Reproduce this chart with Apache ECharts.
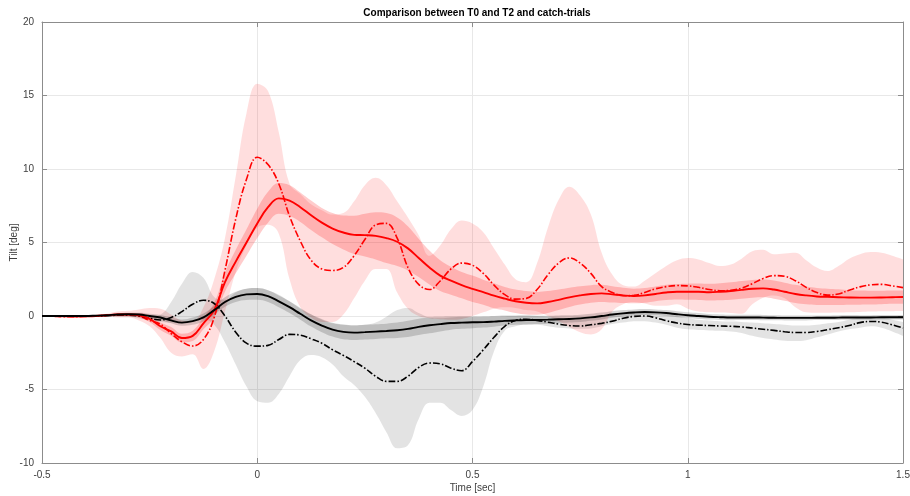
<!DOCTYPE html>
<html>
<head>
<meta charset="utf-8">
<script src="https://cdn.jsdelivr.net/npm/echarts@6/dist/echarts.min.js"></script>
<style>
  html, body { margin: 0; padding: 0; background: #fff; }
  #chart { width: 910px; height: 496px; }
</style>
</head>
<body>
<div id="chart"></div>
<script>
// Sampling grid: -0.5 s .. 1.5 s every 25 ms
const time = [];
for (let i = 0; i <= 80; i++) time.push(+(-0.5 + i * 0.025).toFixed(3));

const xTickLabels = ['-0.5', '0', '0.5', '1', '1.5'];
const yTickLabels = [-10, -5, 0, 5, 10, 15, 20];

// T0 mean tilt (red solid) and its spread (half-width of dark band)
const redMean = [0, 0, -0.02, -0.03, -0.02, 0, 0.05, 0.1, 0.1, 0.05,
  -0.2, -0.7, -1.05, -1.5, -1.35, -0.5, 0.4, 2.3, 3.7, 5.0,
  6.3, 7.4, 8.0, 7.85, 7.4, 6.85, 6.35, 5.95, 5.68, 5.52,
  5.5, 5.45, 5.3, 5.05, 4.6, 3.95, 3.3, 2.75, 2.4, 2.1,
  1.85, 1.62, 1.38, 1.18, 1.0, 0.9, 0.86, 0.95, 1.1, 1.27,
  1.4, 1.5, 1.54, 1.47, 1.4, 1.36, 1.4, 1.5, 1.6, 1.65,
  1.65, 1.65, 1.62, 1.65, 1.7, 1.78, 1.85, 1.88, 1.8, 1.65,
  1.5, 1.4, 1.33, 1.3, 1.28, 1.26, 1.25, 1.25, 1.26, 1.28, 1.29];
const redSpread = [0.05, 0.05, 0.05, 0.05, 0.05, 0.05, 0.06, 0.08, 0.1, 0.15,
  0.2, 0.25, 0.3, 0.3, 0.35, 0.4, 0.5, 0.65, 0.8, 0.9,
  1.0, 1.05, 1.05, 1.05, 1.0, 1.0, 1.0, 1.05, 1.15, 1.3,
  1.45, 1.6, 1.7, 1.65, 1.5, 1.3, 1.15, 1.05, 0.95, 0.9,
  0.9, 0.85, 0.85, 0.8, 0.8, 0.8, 0.78, 0.75, 0.7, 0.65,
  0.62, 0.6, 0.58, 0.55, 0.52, 0.5, 0.5, 0.5, 0.52, 0.53,
  0.55, 0.56, 0.57, 0.58, 0.59, 0.6, 0.6, 0.61, 0.62, 0.62,
  0.62, 0.6, 0.58, 0.56, 0.54, 0.5, 0.48, 0.47, 0.46, 0.45, 0.45];

// T2 tilt (red dash-dot) with its band limits
const redDash = [0, -0.02, -0.05, -0.05, -0.03, 0, 0.05, 0.1, 0.1, 0.0,
  -0.3, -0.55, -1.2, -1.75, -2.04, -1.6, -0.1, 3.1, 6.6, 9.3,
  10.8, 10.3, 9.0, 6.8, 5.1, 3.8, 3.2, 3.1, 3.3, 4.1,
  5.2, 6.2, 6.3, 5.3, 3.3, 2.15, 1.8, 2.38, 3.2, 3.6,
  3.45, 2.9, 2.1, 1.45, 1.15, 1.2, 1.8, 2.8, 3.6, 3.95,
  3.6, 2.9, 2.0, 1.6, 1.38, 1.4, 1.6, 1.85, 2.0, 2.07,
  2.05, 1.95, 1.8, 1.72, 1.75, 1.9, 2.2, 2.55, 2.75, 2.7,
  2.4, 1.95, 1.6, 1.42, 1.5, 1.75, 1.98, 2.12, 2.15, 2.05, 1.93];
const redDashHigh = [0.05, 0.05, 0.05, 0.05, 0.05, 0.08, 0.15, 0.3, 0.35, 0.45,
  0.55, 0.5, 0.1, -0.3, -0.35, 0.6, 2.5, 5.3, 9.5, 13.8,
  15.8, 15.3, 12.5, 9.0, 8.3, 7.6, 7.2, 6.9, 7.0, 7.8,
  8.9, 9.4, 8.9, 7.8, 6.7, 5.5, 4.1, 4.8, 5.9, 6.5,
  6.3, 5.7, 4.6, 3.5, 2.5, 2.3, 3.6, 6.0, 7.9, 8.8,
  8.2, 6.9, 4.3, 2.8, 2.1, 2.0, 2.4, 2.9, 3.4, 3.8,
  3.95, 3.85, 3.6, 3.4, 3.5, 3.9, 4.4, 4.5, 4.2, 4.25,
  4.3, 3.8, 3.3, 3.06, 3.4, 3.9, 4.2, 4.35, 4.3, 4.1, 3.85];
const redDashLow = [-0.05, -0.05, -0.05, -0.05, -0.05, -0.05, -0.05, -0.1, -0.1, -0.3,
  -0.7, -1.5, -2.5, -2.75, -2.6, -3.6, -2.4, 0.3, 3.0, 4.8,
  6.0, 6.2, 5.6, 2.5, 0.6, -0.1, -0.4, -0.4, 0.1, 1.2,
  2.4, 3.2, 3.2, 1.6, 0.5, 0.0, -0.15, -0.22, -0.25, -0.2,
  0.0, 0.25, 0.5, 0.6, 0.55, 0.4, 0.3, 0.0, -0.35, -0.75,
  -1.1, -1.25, -0.9, 0.3, 0.8, 0.95, 0.85, 0.7, 0.7, 0.8,
  0.5, 0.3, 0.25, 0.23, 0.2, 0.15, 0.8, 1.25, 1.4, 1.2,
  0.6, 0.25, 0.22, 0.22, 0.23, 0.25, 0.27, 0.3, 0.32, 0.33, 0.34];

// Catch-trial mean tilt (black solid) and its spread
const blackMean = [0, 0, 0, 0, 0, 0.02, 0.05, 0.1, 0.12, 0.1,
  0.0, -0.1, -0.3, -0.45, -0.35, -0.1, 0.4, 0.95, 1.3, 1.47,
  1.5, 1.35, 1.0, 0.6, 0.15, -0.3, -0.65, -0.93, -1.08, -1.13,
  -1.1, -1.06, -1.02, -0.97, -0.88, -0.74, -0.63, -0.55, -0.48, -0.45,
  -0.43, -0.42, -0.38, -0.33, -0.3, -0.28, -0.27, -0.25, -0.22, -0.2,
  -0.16, -0.09, 0.0, 0.1, 0.18, 0.24, 0.27, 0.25, 0.2, 0.12,
  0.05, 0.0, -0.05, -0.08, -0.1, -0.1, -0.1, -0.11, -0.12, -0.13,
  -0.13, -0.13, -0.12, -0.12, -0.11, -0.1, -0.1, -0.1, -0.09, -0.09, -0.09];
const blackSpread = [0.03, 0.03, 0.03, 0.03, 0.03, 0.04, 0.05, 0.07, 0.1, 0.12,
  0.15, 0.17, 0.2, 0.22, 0.25, 0.27, 0.3, 0.32, 0.35, 0.38,
  0.4, 0.4, 0.4, 0.4, 0.4, 0.42, 0.45, 0.47, 0.5, 0.5,
  0.5, 0.5, 0.5, 0.52, 0.55, 0.55, 0.55, 0.5, 0.45, 0.42,
  0.4, 0.37, 0.35, 0.32, 0.3, 0.29, 0.28, 0.27, 0.26, 0.25,
  0.25, 0.24, 0.23, 0.22, 0.22, 0.21, 0.2, 0.2, 0.2, 0.2,
  0.2, 0.2, 0.19, 0.19, 0.19, 0.18, 0.18, 0.18, 0.17, 0.17,
  0.17, 0.17, 0.16, 0.16, 0.16, 0.16, 0.15, 0.15, 0.15, 0.15, 0.15];

// Catch-trial tilt (black dash-dot) with its band limits
const blackDash = [0, 0, 0, 0, 0, 0, 0.02, 0.05, 0.05, 0.0,
  -0.15, -0.27, -0.1, 0.3, 0.8, 1.07, 0.85, 0.0, -1.1, -1.85,
  -2.05, -2.0, -1.6, -1.25, -1.3, -1.55, -1.85, -2.3, -2.68, -3.1,
  -3.55, -4.1, -4.45, -4.45, -4.1, -3.5, -3.2, -3.25, -3.55, -3.72,
  -3.1, -2.3, -1.45, -0.7, -0.3, -0.22, -0.3, -0.42, -0.55, -0.65,
  -0.68, -0.6, -0.5, -0.35, -0.15, -0.03, 0.0, -0.12, -0.32, -0.48,
  -0.58, -0.62, -0.65, -0.68, -0.7, -0.74, -0.82, -0.9, -0.98, -1.07,
  -1.12, -1.12, -1.05, -0.93, -0.8, -0.65, -0.45, -0.37, -0.42, -0.6, -0.82];
const blackDashHigh = [0.02, 0.02, 0.02, 0.02, 0.03, 0.05, 0.1, 0.15, 0.2, 0.15,
  0.0, 0.1, 0.95, 2.2, 3.0, 2.6, 1.3, 1.1, 1.6, 1.85,
  1.9, 1.75, 1.45, 1.0, 0.5, 0.1, -0.25, -0.5, -0.6, -0.65,
  -0.6, -0.45, -0.05, 0.4, 0.55, 0.2, -0.1, -0.15, -0.1, -0.05,
  -0.05, -0.02, 0.0, 0.05, 0.05, 0.05, 0.0, -0.05, -0.1, -0.15,
  -0.2, -0.15, -0.05, 0.1, 0.25, 0.3, 0.35, 0.3, 0.15, 0.0,
  -0.15, -0.25, -0.3, -0.35, -0.38, -0.4, -0.45, -0.5, -0.55, -0.6,
  -0.65, -0.65, -0.6, -0.5, -0.4, -0.25, -0.1, -0.05, -0.1, -0.25, -0.4];
const blackDashLow = [-0.02, -0.02, -0.02, -0.02, -0.03, -0.05, -0.05, -0.05, -0.05, -0.15,
  -0.3, -0.4, -0.45, -0.45, -0.3, -0.22, -0.6, -1.8, -3.3, -4.8,
  -5.8, -5.9, -5.3, -4.1, -3.0, -2.65, -2.8, -3.3, -4.1, -4.7,
  -5.5, -6.6, -7.9, -9.0, -8.8, -7.0, -5.9, -5.9, -6.4, -6.8,
  -6.4, -4.8, -2.4, -1.0, -0.7, -0.6, -0.6, -0.7, -0.8, -0.85,
  -0.87, -0.85, -0.7, -0.55, -0.45, -0.35, -0.35, -0.45, -0.6, -0.8,
  -0.9, -0.95, -0.98, -1.0, -1.05, -1.15, -1.35, -1.5, -1.6, -1.68,
  -1.7, -1.65, -1.45, -1.25, -1.05, -0.9, -0.8, -0.7, -0.8, -1.05, -1.35];

const FONT = 'Liberation Sans, Arial, Helvetica, sans-serif';
const AXIS_COLOR = '#8c8c8c';
const LABEL_COLOR = '#404040';
const dashDot = [7, 2, 1.5, 2];

const tickEvery = (i) => i % 20 === 0;

// Shaded band drawn as an invisible lower line plus a stacked filled difference
function band(name, low, high, color, z) {
  const diff = high.map((h, i) => +(h - low[i]).toFixed(3));
  const common = {
    type: 'line', stack: name, stackStrategy: 'all', smooth: 0.4,
    symbol: 'none', silent: true, z: z,
    lineStyle: { width: 0, opacity: 0 }
  };
  return [
    Object.assign({}, common, { name: name + ' low', data: low }),
    Object.assign({}, common, { name: name + ' range', data: diff, areaStyle: { color: color, opacity: 1 } })
  ];
}

function curve(name, values, color, width, type, z) {
  return {
    type: 'line', name: name, data: values, smooth: 0.4, symbol: 'none', silent: true, z: z,
    lineStyle: { color: color, width: width, type: type, cap: 'butt' }
  };
}

const redMeanLow = redMean.map((v, i) => +(v - redSpread[i]).toFixed(3));
const redMeanHigh = redMean.map((v, i) => +(v + redSpread[i]).toFixed(3));
const blackMeanLow = blackMean.map((v, i) => +(v - blackSpread[i]).toFixed(3));
const blackMeanHigh = blackMean.map((v, i) => +(v + blackSpread[i]).toFixed(3));

const timeLabels = time.map(t => String(t));

const chart = echarts.init(document.getElementById('chart'), null, { renderer: 'canvas' });
chart.setOption({
  animation: false,
  backgroundColor: '#ffffff',
  title: {
    text: 'Comparison between T0 and T2 and catch-trials',
    left: 472, top: 3, textAlign: 'center',
    textStyle: { fontFamily: FONT, fontSize: 10, fontWeight: 'bold', color: '#000' }
  },
  grid: { left: 42, right: 7, top: 22, bottom: 33, containLabel: false, outerBoundsMode: 'none' },
  xAxis: [{
    type: 'category', data: timeLabels, boundaryGap: false, position: 'bottom',
    name: 'Time [sec]', nameLocation: 'middle', nameGap: 20, nameMoveOverlap: false,
    nameTextStyle: { fontFamily: FONT, fontSize: 10, color: LABEL_COLOR },
    axisLine: { show: true, onZero: false, lineStyle: { color: AXIS_COLOR, width: 1 } },
    axisTick: { show: true, inside: true, length: 5, interval: tickEvery, lineStyle: { color: AXIS_COLOR } },
    axisLabel: { interval: tickEvery, margin: 7, fontFamily: FONT, fontSize: 10, color: LABEL_COLOR,
      formatter: (v, i) => xTickLabels[i / 20] },
    splitLine: { show: true, interval: tickEvery, lineStyle: { color: '#e8e8e8', width: 1 } }
  }, {
    type: 'category', data: timeLabels, boundaryGap: false, position: 'top',
    axisLine: { show: true, onZero: false, lineStyle: { color: AXIS_COLOR, width: 1 } },
    axisTick: { show: true, inside: true, length: 5, interval: tickEvery, lineStyle: { color: AXIS_COLOR } },
    axisLabel: { show: false, interval: tickEvery },
    splitLine: { show: false }
  }],
  yAxis: [{
    type: 'value', min: -10, max: 20, interval: 5, position: 'left',
    name: 'Tilt [deg]', nameLocation: 'middle', nameGap: 23, nameRotate: 90, nameMoveOverlap: false,
    nameTextStyle: { fontFamily: FONT, fontSize: 10, color: LABEL_COLOR },
    axisLine: { show: true, onZero: false, lineStyle: { color: AXIS_COLOR, width: 1 } },
    axisTick: { show: true, inside: true, length: 5, lineStyle: { color: AXIS_COLOR } },
    axisLabel: { margin: 8, fontFamily: FONT, fontSize: 10, color: LABEL_COLOR,
      formatter: v => yTickLabels.includes(v) ? String(v) : '' },
    splitLine: { show: true, lineStyle: { color: '#e8e8e8', width: 1 } }
  }, {
    type: 'value', min: -10, max: 20, interval: 5, position: 'right',
    axisLine: { show: true, onZero: false, lineStyle: { color: AXIS_COLOR, width: 1 } },
    axisTick: { show: true, inside: true, length: 5, lineStyle: { color: AXIS_COLOR } },
    axisLabel: { show: false },
    splitLine: { show: false }
  }],
  series: [
    ...band('redDashBand', redDashLow, redDashHigh, 'rgba(255,0,0,0.13)', 1),
    ...band('blackDashBand', blackDashLow, blackDashHigh, 'rgba(0,0,0,0.11)', 2),
    ...band('redMeanBand', redMeanLow, redMeanHigh, 'rgba(255,0,0,0.20)', 3),
    ...band('blackMeanBand', blackMeanLow, blackMeanHigh, 'rgba(0,0,0,0.16)', 4),
    curve('T2', redDash, '#ff0000', 1.6, dashDot, 5),
    curve('catch-trials dash', blackDash, '#000000', 1.6, dashDot, 5),
    curve('T0', redMean, '#ff0000', 1.9, 'solid', 6),
    curve('catch-trials', blackMean, '#000000', 1.9, 'solid', 6)
  ]
});
</script>
</body>
</html>
